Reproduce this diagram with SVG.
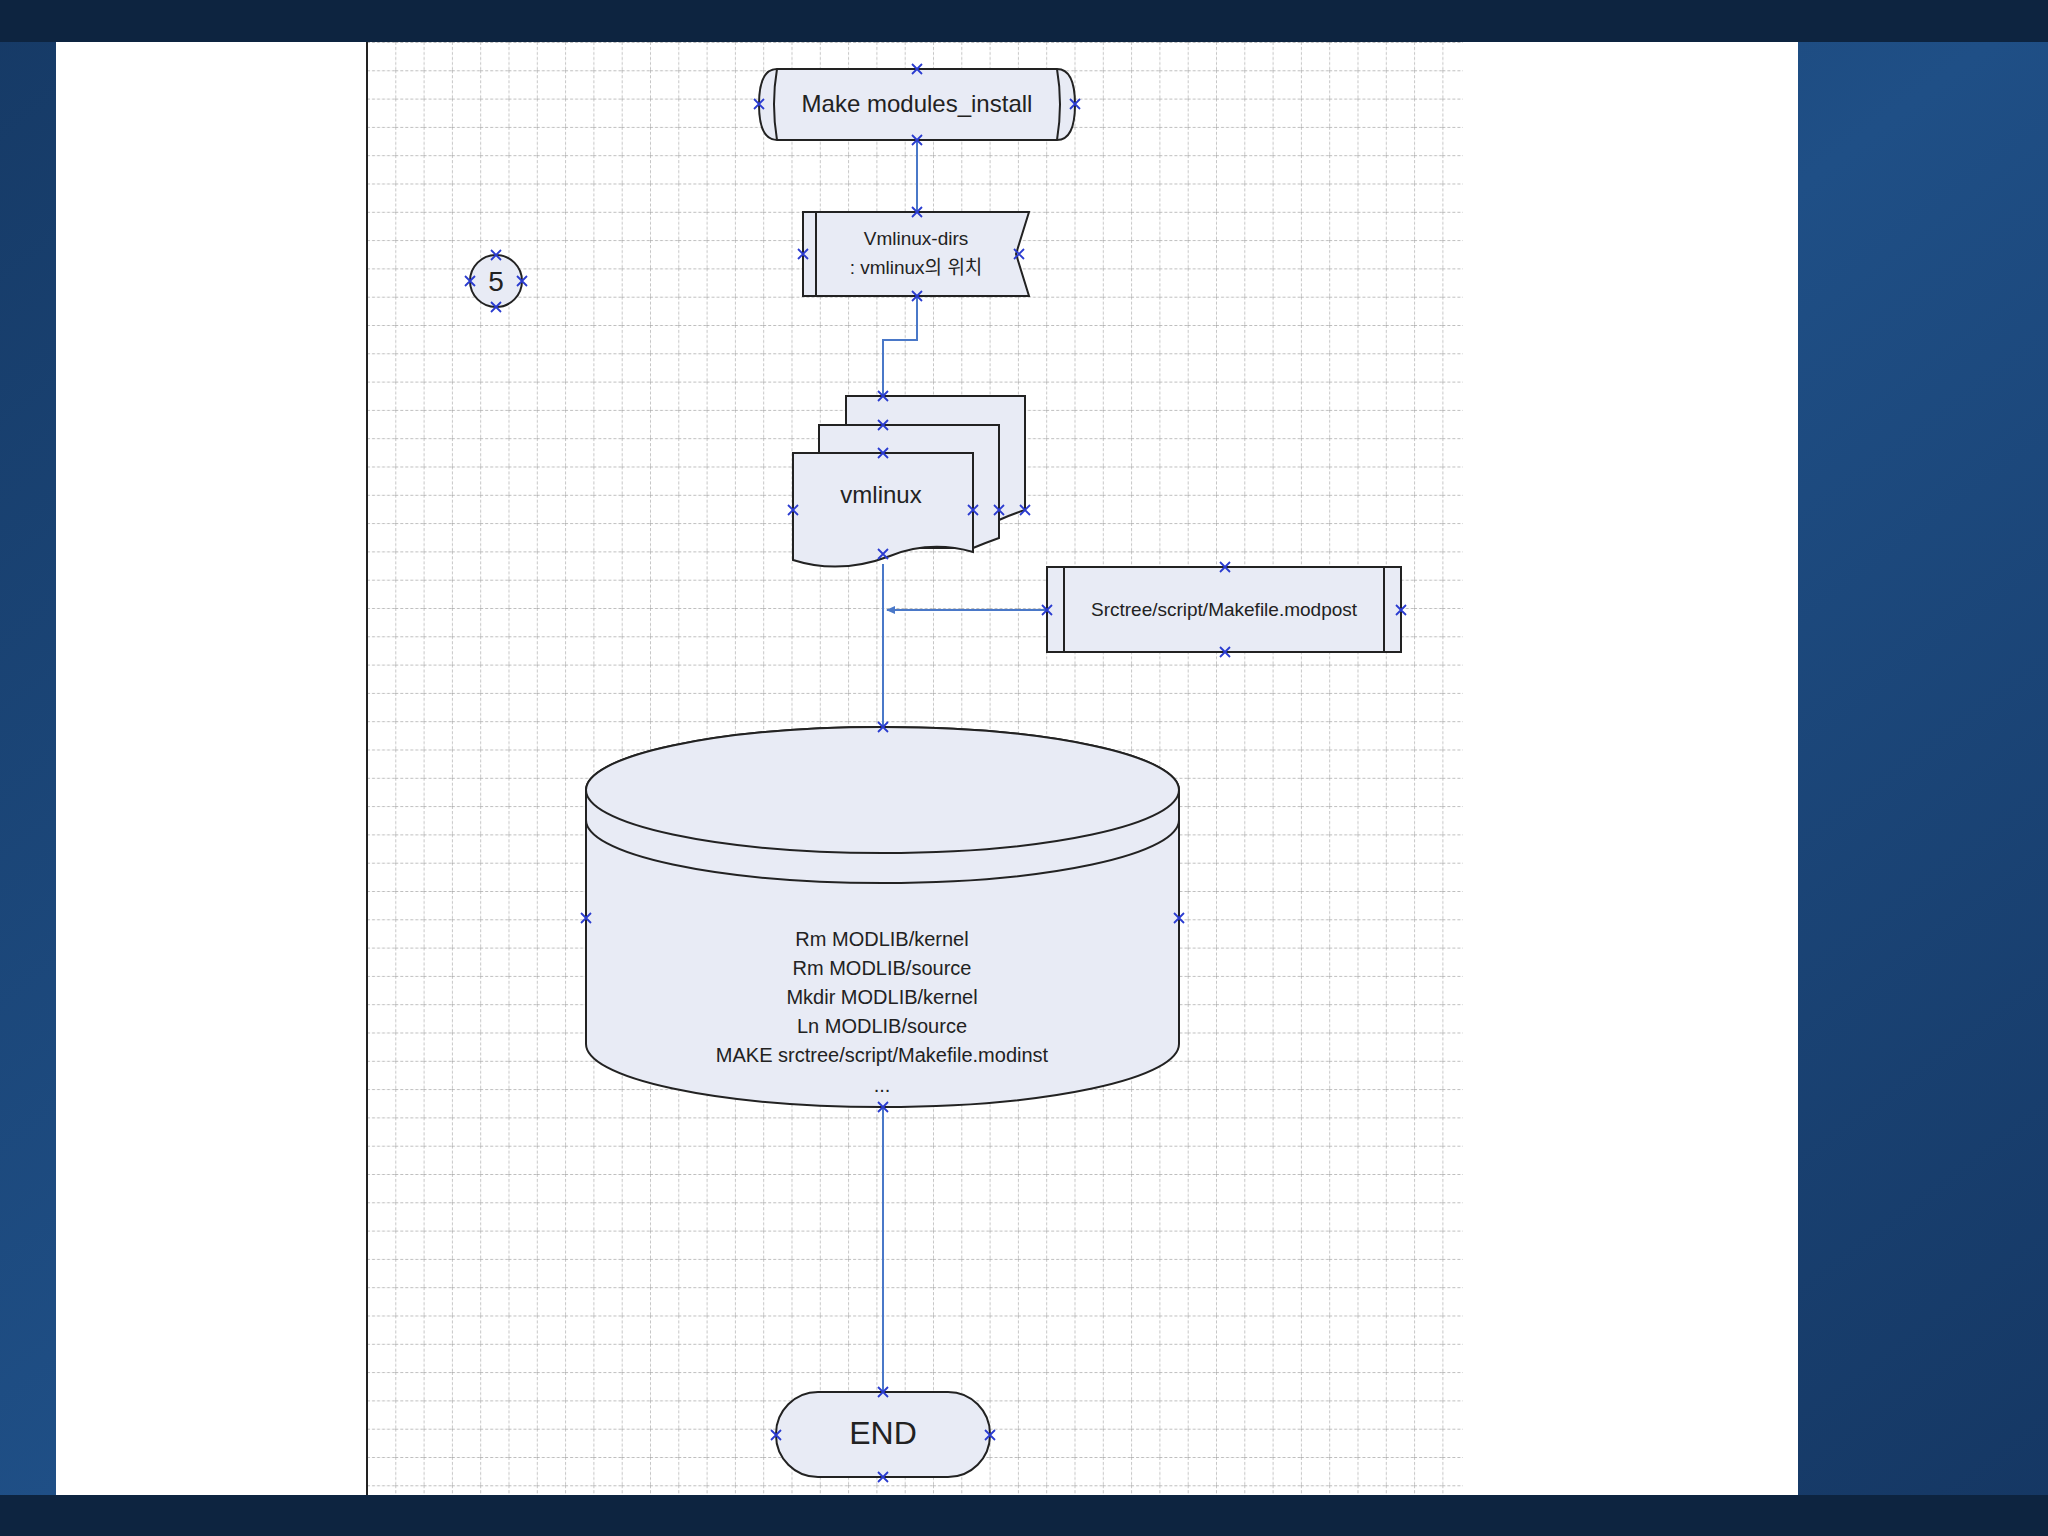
<svg xmlns="http://www.w3.org/2000/svg" width="2048" height="1536" viewBox="0 0 2048 1536">
<defs>
<linearGradient id="bg" x1="0" y1="0" x2="1" y2="1"><stop offset="0" stop-color="#163a66"/><stop offset="0.5" stop-color="#1f4f86"/><stop offset="1" stop-color="#153763"/></linearGradient>
<pattern id="grid" x="367" y="42" width="28.3" height="28.3" patternUnits="userSpaceOnUse">
<path d="M0 0H28.3M0 0V28.3" fill="none" stroke="#a8a8a8" stroke-width="1.3" stroke-dasharray="3 2"/>
</pattern>
<marker id="arr" markerWidth="10" markerHeight="10" refX="8" refY="5" orient="auto" markerUnits="userSpaceOnUse"><path d="M0 1L9 5L0 9Z" fill="#4a78c8"/></marker>
<path id="x" d="M-5 -5L5 5M-5 5L5 -5" stroke="#2a3bd0" stroke-width="1.8" fill="none"/>
</defs>
<style>
.s{fill:#e8ebf5;stroke:#222;stroke-width:2}
.t{font-family:"Liberation Sans",Arial,sans-serif;fill:#222;text-anchor:middle}
.c{fill:none;stroke:#4a78c8;stroke-width:2}
</style>
<rect width="2048" height="1536" fill="url(#bg)"/>
<rect x="0" y="0" width="2048" height="42" fill="#0d2440"/>
<rect x="0" y="1495" width="2048" height="41" fill="#0d2440"/>
<rect x="56" y="42" width="1742" height="1453" fill="#fff"/>
<rect x="367" y="42" width="1096" height="1453" fill="url(#grid)"/>
<line x1="367" y1="42" x2="367" y2="1495" stroke="#222" stroke-width="2"/>
<g id="connectors">
<path class="c" d="M917 140V212"/>
<path class="c" d="M917 296V340H883V396"/>
<path class="c" d="M883 564V727"/>
<path class="c" d="M1047 610H887" marker-end="url(#arr)"/>
<path class="c" d="M883 1107V1392"/>
</g>
<g id="start">
<path class="s" d="M777 69H1057Q1075 69 1075 104.5Q1075 140 1057 140H777Q759 140 759 104.5Q759 69 777 69Z"/>
<path d="M777 69Q771 104 777 140M1057 69Q1063 104 1057 140" fill="none" stroke="#222" stroke-width="2"/>
<text class="t" x="917" y="112" font-size="24">Make modules_install</text>
</g>
<g id="vmlinux-dirs">
<path class="s" d="M803 212H1029L1016 254L1029 296H803Z"/>
<line x1="816" y1="212" x2="816" y2="296" stroke="#222" stroke-width="2"/>
<text class="t" x="916" y="245" font-size="19">Vmlinux-dirs</text>
<text class="t" x="916" y="274" font-size="19" style="font-family:'Liberation Sans','Noto Sans CJK KR',sans-serif">: vmlinux의 위치</text>
</g>
<g id="circle5">
<circle cx="496" cy="281" r="26" class="s"/>
<text class="t" x="496" y="291" font-size="28">5</text>
</g>
<g id="vmlinux">
<path class="s" d="M846 396H1025V510Q1010 515 999 520H846Z"/>
<path class="s" d="M819 425H999V538Q985 543 973 548H819Z"/>
<path class="s" d="M793 453H973V552Q930 540 890 556Q840 575 793 560Z"/>
<text class="t" x="881" y="503" font-size="24">vmlinux</text>
</g>
<g id="modpost">
<rect x="1047" y="567" width="354" height="85" class="s"/>
<line x1="1064" y1="567" x2="1064" y2="652" stroke="#222" stroke-width="2"/>
<line x1="1384" y1="567" x2="1384" y2="652" stroke="#222" stroke-width="2"/>
<text class="t" x="1224" y="616" font-size="19">Srctree/script/Makefile.modpost</text>
</g>
<g id="cylinder">
<path class="s" d="M586 790A296.5 63 0 0 1 1179 790V1044A296.5 63 0 0 1 586 1044Z"/>
<ellipse cx="882.5" cy="790" rx="296.5" ry="63" class="s"/>
<path d="M586 820A296.5 63 0 0 0 1179 820" fill="none" stroke="#222" stroke-width="2"/>
<path d="M586 790V820M1179 790V820" stroke="#222" stroke-width="2"/>
<g class="t" font-size="20">
<text x="882" y="946">Rm MODLIB/kernel</text>
<text x="882" y="975">Rm MODLIB/source</text>
<text x="882" y="1004">Mkdir MODLIB/kernel</text>
<text x="882" y="1033">Ln MODLIB/source</text>
<text x="882" y="1062">MAKE srctree/script/Makefile.modinst</text>
<text x="882" y="1092">...</text>
</g>
</g>
<g id="end">
<rect x="776" y="1392" width="214" height="85" rx="42" class="s"/>
<text class="t" x="883" y="1444" font-size="32">END</text>
</g>
<g id="marks">
<use href="#x" x="917" y="69"/><use href="#x" x="917" y="140"/><use href="#x" x="759" y="104"/><use href="#x" x="1075" y="104"/>
<use href="#x" x="917" y="212"/><use href="#x" x="917" y="296"/><use href="#x" x="803" y="254"/><use href="#x" x="1019" y="254"/>
<use href="#x" x="496" y="255"/><use href="#x" x="496" y="307"/><use href="#x" x="470" y="281"/><use href="#x" x="522" y="281"/>
<use href="#x" x="883" y="396"/><use href="#x" x="883" y="425"/><use href="#x" x="883" y="453"/><use href="#x" x="793" y="510"/><use href="#x" x="973" y="510"/><use href="#x" x="999" y="510"/><use href="#x" x="1025" y="510"/><use href="#x" x="883" y="554"/>
<use href="#x" x="1225" y="567"/><use href="#x" x="1225" y="652"/><use href="#x" x="1047" y="610"/><use href="#x" x="1401" y="610"/>
<use href="#x" x="883" y="727"/><use href="#x" x="586" y="918"/><use href="#x" x="1179" y="918"/><use href="#x" x="883" y="1107"/>
<use href="#x" x="883" y="1392"/><use href="#x" x="883" y="1477"/><use href="#x" x="776" y="1435"/><use href="#x" x="990" y="1435"/>
</g>
</svg>
